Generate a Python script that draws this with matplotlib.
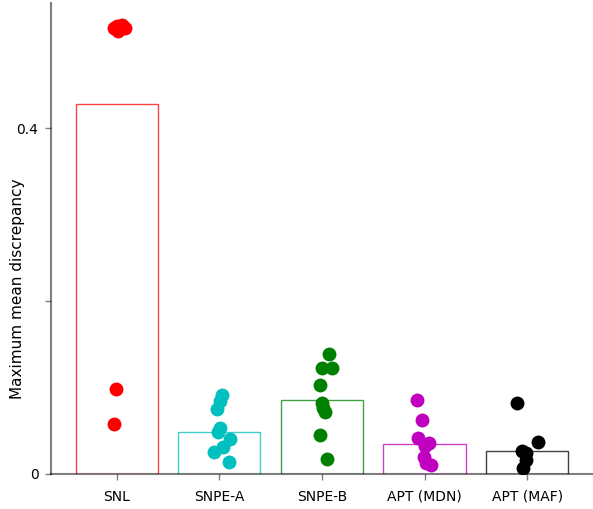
import matplotlib.pyplot as plt
import numpy as np

methods = ["SNL", "SNPE-A", "SNPE-B", "APT (MDN)", "APT (MAF)"]
colors = ["r", "c", "g", "m", "k"]
bar_means = [0.428, 0.0486, 0.0855, 0.0347, 0.0266]

# per-run values and the horizontal jitter
snl_vals = [0.5179, 0.5168, 0.5156, 0.5156, 0.5121, 0.5191, 0.5145, 0.5156, 0.0983, 0.0578]
snl_jit = [0.0, 0.04, 0.08, -0.03, 0.01, 0.05, -0.01, 0.02, -0.01, -0.03]
snpea_vals = [0.0913, 0.0844, 0.0751, 0.0532, 0.0486, 0.0405, 0.0312, 0.0254, 0.0139]
snpea_jit = [0.03, 0.01, -0.02, 0.01, -0.01, 0.10, 0.04, -0.05, 0.09]
snpeb_vals = [0.1387, 0.1225, 0.1225, 0.1029, 0.0821, 0.0763, 0.0717, 0.0451, 0.0173]
snpeb_jit = [0.07, 0.0, 0.10, -0.02, 0.0, 0.01, 0.03, -0.02, 0.05]
mdn_vals = [0.0855, 0.0624, 0.0416, 0.0358, 0.0324, 0.0197, 0.0127, 0.0104]
mdn_jit = [-0.07, -0.02, -0.06, 0.04, 0.0, -0.01, 0.01, 0.06]
maf_vals = [0.0821, 0.037, 0.0266, 0.0243, 0.0162, 0.0069]
maf_jit = [-0.10, 0.11, -0.05, -0.01, -0.01, -0.04]

runs = [(snl_vals, snl_jit), (snpea_vals, snpea_jit), (snpeb_vals, snpeb_jit),
        (mdn_vals, mdn_jit), (maf_vals, maf_jit)]

fig = plt.figure(figsize=(5.93, 5.09), dpi=100)
ax = fig.add_axes([0.086, 0.069, 0.912, 0.925])

x = np.arange(len(methods))
for i, (c, h) in enumerate(zip(colors, bar_means)):
    ax.bar(x[i], h, width=0.8, facecolor="none", edgecolor=c,
           linewidth=1.0, alpha=0.75, zorder=1)
    vals, jit = runs[i]
    ax.scatter(x[i] + np.array(jit), vals, s=100, color=c,
               linewidths=0, zorder=3)

ax.set_xlim(-0.64, 4.63)
ax.set_ylim(0, 0.545)
ax.set_xticks(x)
ax.set_xticklabels(methods)
ax.set_yticks([0, 0.2, 0.4])
ax.set_yticklabels(["0", "", "0.4"])
ax.set_ylabel("Maximum mean discrepancy", fontsize=11)
ax.yaxis.set_label_coords(-0.048, 0.394)

for s in ["top", "right"]:
    ax.spines[s].set_visible(False)
for s in ["left", "bottom"]:
    ax.spines[s].set_color("black")
    ax.spines[s].set_alpha(0.5)
    ax.spines[s].set_linewidth(1.5)
    ax.spines[s].set_zorder(2)
ax.tick_params(color=(0, 0, 0, 0.5), width=1, length=4)
ax.tick_params(axis="x", pad=7.5)
ax.tick_params(axis="y", pad=5)

fig.savefig("out.png", dpi=100)
